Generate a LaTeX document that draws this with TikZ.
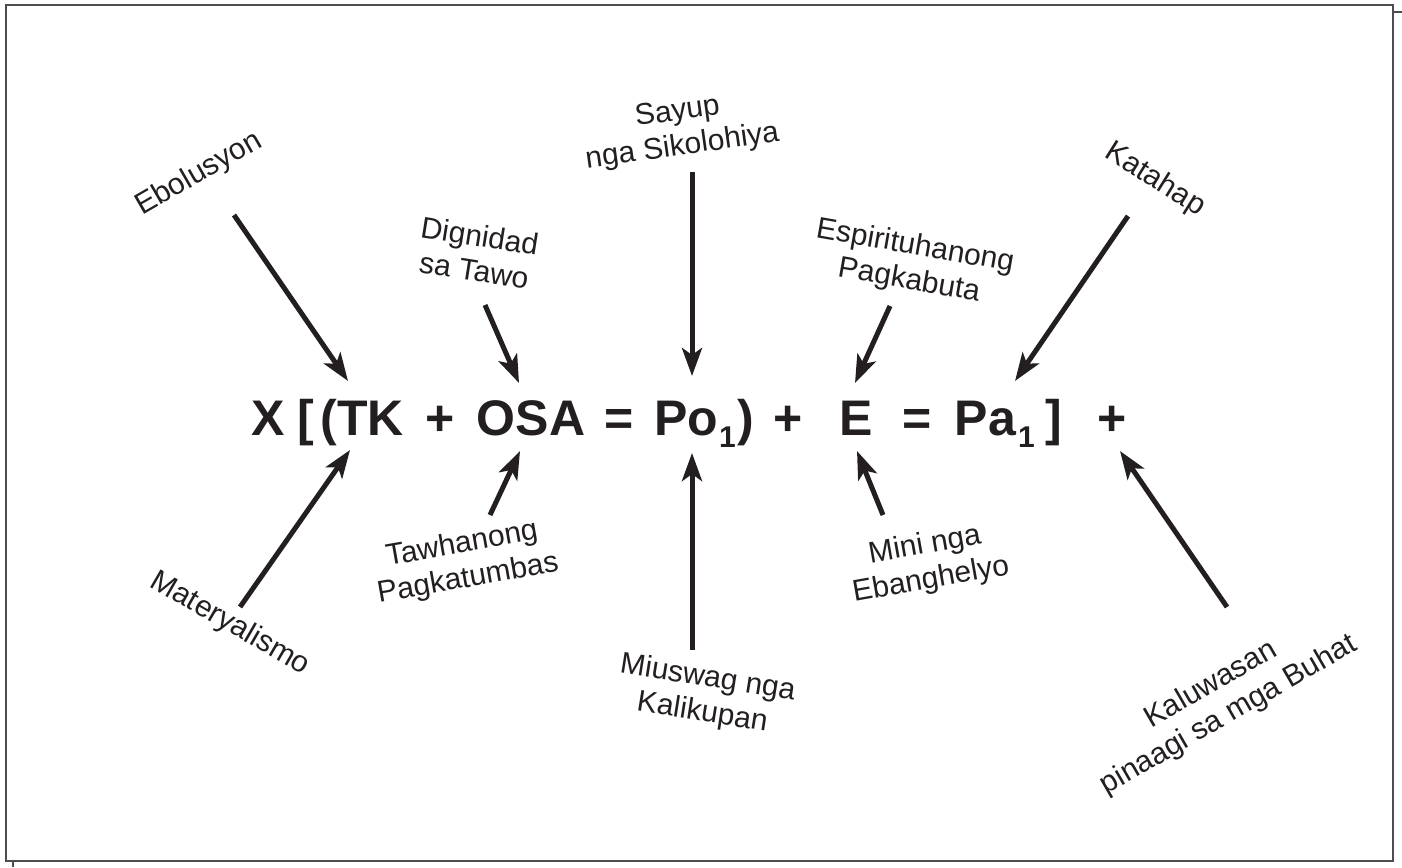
\documentclass[tikz,border=0pt]{standalone}
\usepackage{fontspec}
\setmainfont{Liberation Sans}
\usetikzlibrary{arrows.meta}
\definecolor{ink}{HTML}{231F20}
\definecolor{frame}{HTML}{4D4D4F}
\begin{document}
\begin{tikzpicture}[x=1pt,y=-1pt,
  lbl/.style={font=\fontsize{30}{35}\selectfont, align=center, text=ink, inner sep=0pt},
  eqt/.style={font=\fontsize{50}{60}\selectfont\bfseries, text=ink, inner sep=0pt, anchor=base},
  subt/.style={font=\fontsize{30}{36}\selectfont\bfseries, text=ink, inner sep=0pt, anchor=base},
  arr/.style={line width=5pt, draw=ink, -{Stealth[length=28pt,width=20pt,inset=7pt]}},
]
\useasboundingbox (0,0) rectangle (1402,867);
\draw[line width=2pt, draw=frame] (6,5) rectangle (1393,861);
\draw[line width=2pt, draw=frame] (1393,12) -- (1402,12);
\draw[line width=2pt, draw=frame] (13,861) -- (13,867);

% equation
\node[eqt] (X) at (268.5,435) {X};
\node[eqt] (lb) at (305.5,435) {[};
\node[eqt] (lp) at (328.5,435) {(};
\node[eqt] (TK) at (370.5,435) {TK};
\node[eqt] (p1) at (440.5,435) {+};
\node[eqt] (OSA) at (531,435) {OSA};
\node[eqt] (e1) at (619.5,435) {=};
\node[eqt] (Po) at (686,435) {Po};
\node[subt] (s1) at (727.5,447) {1};
\node[eqt] (rp) at (745.5,435) {)};
\node[eqt] (p2) at (788.5,435) {+};
\node[eqt] (E) at (856.5,435) {E};
\node[eqt] (e2) at (917.5,435) {=};
\node[eqt] (Pa) at (985.5,435) {Pa};
\node[subt] (s2) at (1026.5,447) {1};
\node[eqt] (rb) at (1053.5,435) {]};
\node[eqt] (p3) at (1112.5,435) {+};

% labels
\node[lbl, rotate=30] (ebo) at (199,174) {Ebolusyon};
\node[lbl, rotate=-9] (dig) at (477,253) {Dignidad\\sa Tawo};
\node[lbl, rotate=8] (say) at (680,130) {Sayup\\nga Sikolohiya};
\node[lbl, rotate=-10] (esp) at (912,264) {Espirituhanong\\Pagkabuta};
\node[lbl, rotate=-32] (kat) at (1155,180) {Katahap};
\node[lbl, rotate=-30] (mat) at (230,624) {Materyalismo};
\node[lbl, rotate=10] (taw) at (465,562) {Tawhanong\\Pagkatumbas};
\node[lbl, rotate=-9] (miu) at (705,696) {Miuswag nga\\Kalikupan};
\node[lbl, rotate=10] (min) at (928,563) {Mini nga\\Ebanghelyo};
\node[lbl, rotate=30] (kal) at (1220,700) {Kaluwasan\\pinaagi sa mga Buhat};

% arrow ends
\coordinate (a1s) at (234,215);  \coordinate (a1e) at (348,381);
\coordinate (a2s) at (485,305);  \coordinate (a2e) at (519,383);
\coordinate (a3s) at (692,172);  \coordinate (a3e) at (692,376);
\coordinate (a4s) at (890,306);  \coordinate (a4e) at (855,383);
\coordinate (a5s) at (1128,216); \coordinate (a5e) at (1015,381);
\coordinate (b1s) at (240,607);  \coordinate (b1e) at (350,450);
\coordinate (b2s) at (490,515);  \coordinate (b2e) at (520,451);
\coordinate (b3s) at (692,650);  \coordinate (b3e) at (692,453);
\coordinate (b4s) at (883,515);  \coordinate (b4e) at (857,451);
\coordinate (b5s) at (1227,607); \coordinate (b5e) at (1120,451);

\foreach \a in {a1,a2,a3,a4,a5,b1,b2,b3,b4,b5}
  \draw[arr] (\a s) -- (\a e);
\end{tikzpicture}
\end{document}
